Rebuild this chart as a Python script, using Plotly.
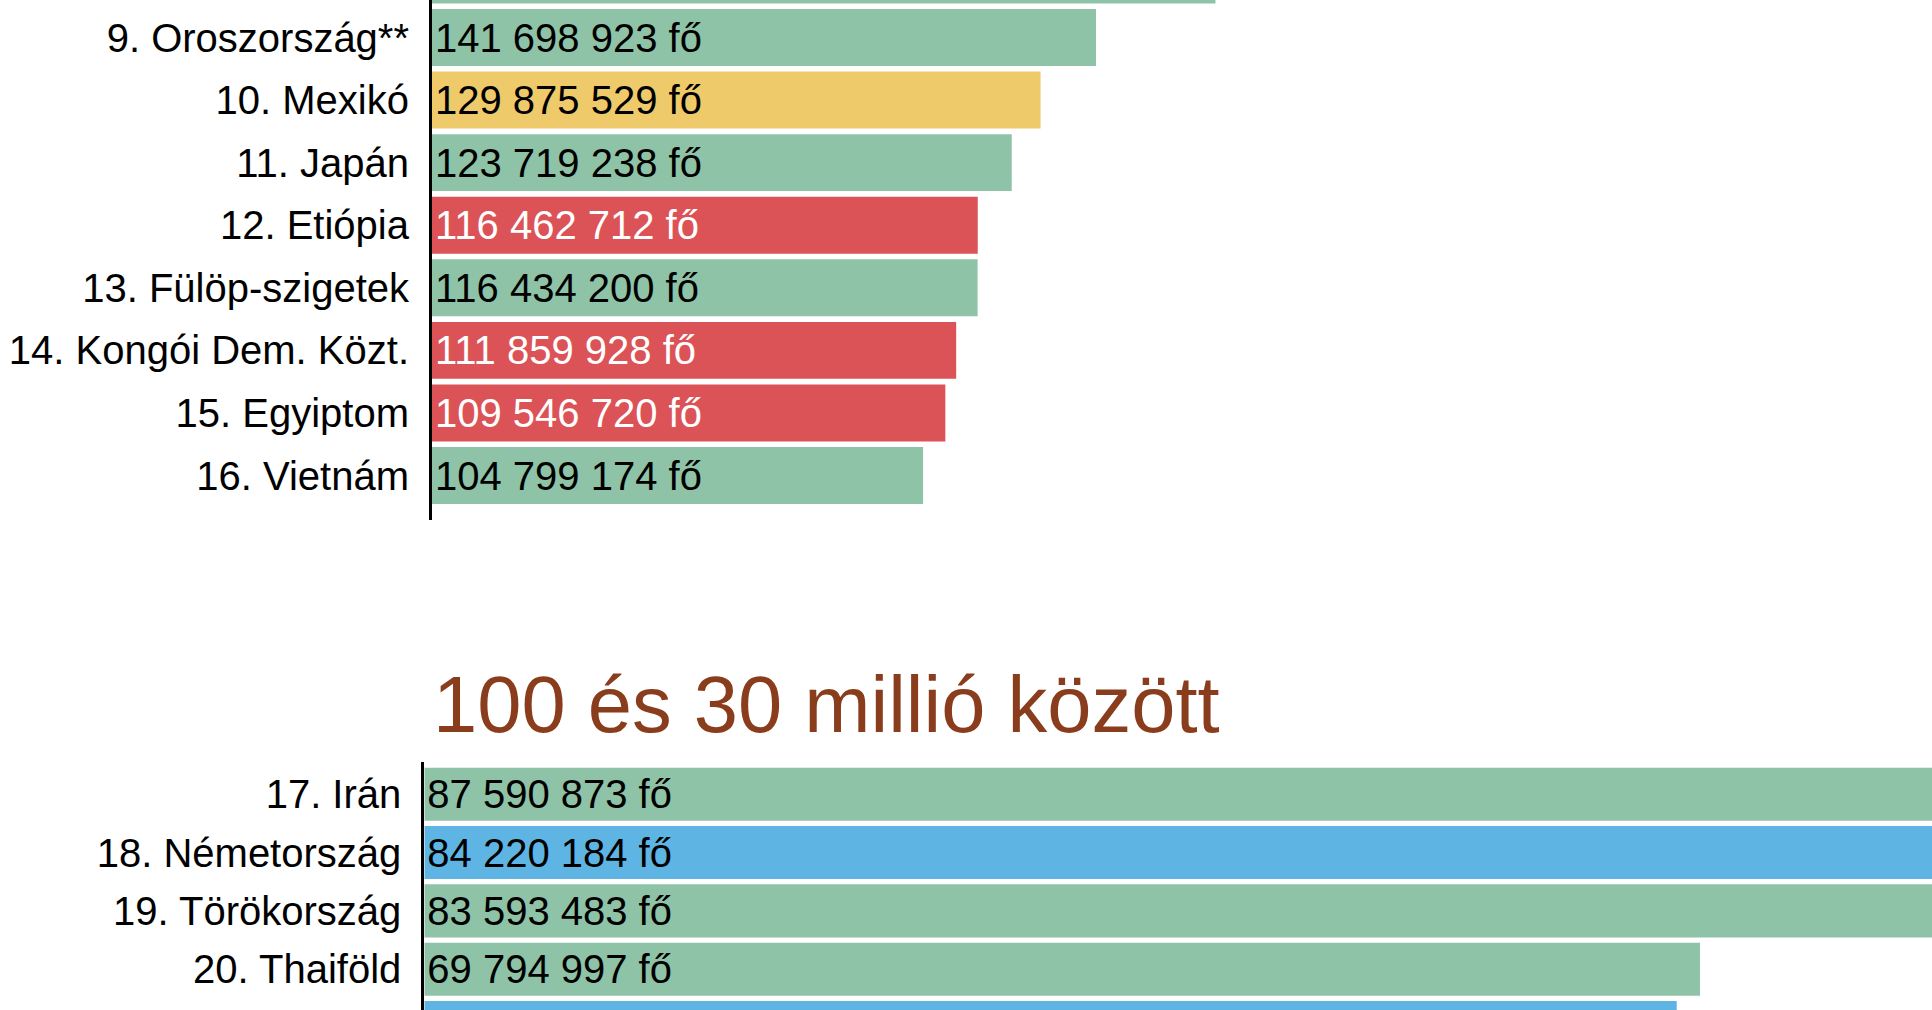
import plotly.graph_objects as go

# ---- data: 8-16 (upper section) ----
top_labels = ["8. Banglades", "9. Oroszország**", "10. Mexikó", "11. Japán", "12. Etiópia",
              "13. Fülöp-szigetek", "14. Kongói Dem. Közt.", "15. Egyiptom", "16. Vietnám"]
top_values = [167184465, 141698923, 129875529, 123719238, 116462712,
              116434200, 111859928, 109546720, 104799174]
top_region = ["Ázsia", "Ázsia", "Amerika", "Ázsia", "Afrika",
              "Ázsia", "Afrika", "Afrika", "Ázsia"]

# ---- data: 17-21 (100 és 30 millió között) ----
bot_title = "100 és 30 millió között"
bot_labels = ["17. Irán", "18. Németország", "19. Törökország", "20. Thaiföld", "21. Franciaország"]
bot_values = [87590873, 84220184, 83593483, 69794997, 68521974]
bot_region = ["Ázsia", "Európa", "Ázsia", "Ázsia", "Európa"]

COLORS = {"Ázsia": "#8EC3A7", "Amerika": "#EFCA6A", "Afrika": "#DC5357", "Európa": "#5EB5E3"}
TEXTCOL = {"Ázsia": "black", "Amerika": "black", "Afrika": "white", "Európa": "black"}
FONT = "Liberation Sans, Arial, sans-serif"

W, H = 1932, 1010
FS = 40


def fmt(v):
    return f"{v:,}".replace(",", " ") + " fő"


fig = go.Figure()

fig.add_trace(go.Bar(
    y=top_labels, x=top_values, orientation="h",
    marker=dict(color=[COLORS[r] for r in top_region], line=dict(width=0)),
    text=[fmt(v) for v in top_values], textposition="inside", insidetextanchor="start",
    textfont=dict(family=FONT, size=FS, color=[TEXTCOL[r] for r in top_region]),
    constraintext="none", cliponaxis=True, hoverinfo="skip",
    xaxis="x", yaxis="y"))

fig.add_trace(go.Bar(
    y=bot_labels, x=bot_values, orientation="h",
    marker=dict(color=[COLORS[r] for r in bot_region], line=dict(width=0)),
    text=[fmt(v) for v in bot_values], textposition="inside", insidetextanchor="start",
    textfont=dict(family=FONT, size=FS, color=[TEXTCOL[r] for r in bot_region]),
    constraintext="none", cliponaxis=True, hoverinfo="skip",
    xaxis="x2", yaxis="y2"))

fig.update_layout(
    width=W, height=H,
    margin=dict(l=0, r=0, t=0, b=0),
    paper_bgcolor="white", plot_bgcolor="white",
    showlegend=False, bargap=0.09,
    font=dict(family=FONT, size=FS, color="black"),
    xaxis=dict(domain=[432 / W, 1], range=[0, 320.1e6], visible=False, fixedrange=True),
    yaxis=dict(domain=[1 - 520 / H, 1], type="category", range=[8.711, 0.4007],
               showline=True, linecolor="black", linewidth=3, showgrid=False,
               ticks="", ticklabelstandoff=12, tickfont=dict(family=FONT, size=FS, color="black")),
    xaxis2=dict(domain=[424.3 / W, 1], range=[0, 82.49e6], visible=False, anchor="y2", fixedrange=True),
    yaxis2=dict(domain=[0, 1 - 762 / H], type="category", range=[3.6986, -0.552], anchor="x2",
                showline=True, linecolor="black", linewidth=3, showgrid=False,
                ticks="", ticklabelstandoff=12, tickfont=dict(family=FONT, size=FS, color="black")),
    annotations=[dict(text=bot_title, xref="paper", yref="paper",
                      x=431 / W, y=1 - 704 / H, xanchor="left", yanchor="middle",
                      showarrow=False, font=dict(family=FONT, size=79.5, color="#8A3D1C"))],
)

fig.write_html("out.html", config={"displayModeBar": False},
               post_script="document.body.style.margin='0';document.body.style.overflow='hidden';")
